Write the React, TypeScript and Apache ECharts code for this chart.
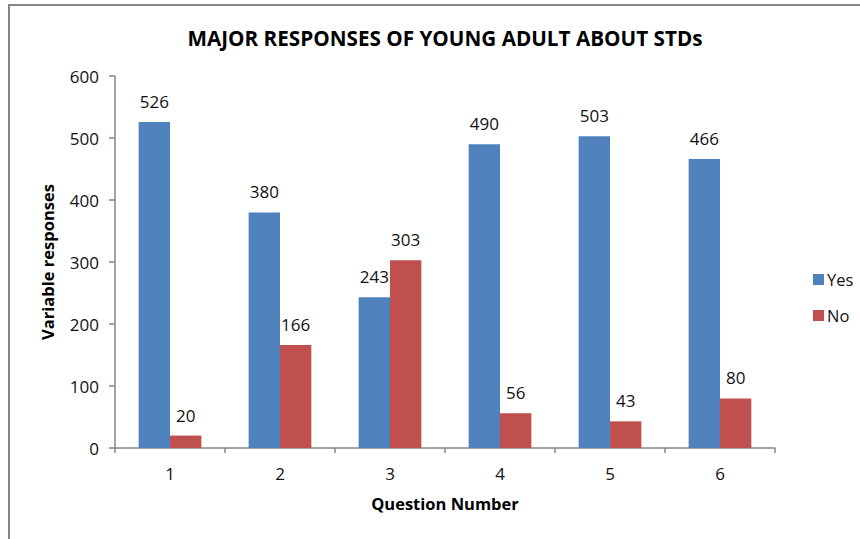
import React, { useEffect, useRef } from "react";
import * as echarts from "echarts";

const questions = ["1", "2", "3", "4", "5", "6"];
const yesValues = [526, 380, 243, 490, 503, 466];
const noValues = [20, 166, 303, 56, 43, 80];
const yTicks = { min: 0, max: 600, interval: 100 };

const FONT = "'Open Sans', 'Noto Sans', sans-serif";
const AXIS_GRAY = "#868686";

export default function App() {
  const ref = useRef<HTMLDivElement>(null);

  useEffect(() => {
    if (!ref.current) return;
    const chart = echarts.init(ref.current, null, { renderer: "svg" });
    const labelStyle = {
      show: true,
      position: "top" as const,
      distance: 12,
      fontSize: 17,
      color: "#111",
      fontFamily: FONT,
    };
    chart.setOption({
      animation: false,
      backgroundColor: "#fff",
      textStyle: { fontFamily: FONT },
      title: {
        text: "MAJOR RESPONSES OF YOUNG ADULT ABOUT STDs",
        left: 440,
        top: 22,
        textAlign: "center",
        textStyle: { fontSize: 20.7, fontWeight: "bold", color: "#000", fontFamily: FONT },
      },
      legend: {
        orient: "vertical",
        left: 808,
        top: 266,
        itemWidth: 11,
        itemHeight: 11,
        itemGap: 19,
        icon: "rect",
        textStyle: { fontSize: 16.5, color: "#111", fontFamily: FONT, padding: [0, 0, 0, -2] },
        data: ["Yes", "No"],
      },
      grid: { left: 115, right: 85, top: 76, bottom: 91, containLabel: false },
      xAxis: {
        type: "category",
        data: questions,
        name: "Question Number",
        nameLocation: "middle",
        nameGap: 47,
        nameTextStyle: { fontSize: 16.5, fontWeight: "bold", color: "#000", fontFamily: FONT },
        axisLine: { show: true, lineStyle: { color: AXIS_GRAY, width: 1.5 } },
        axisTick: { show: true, alignWithLabel: false, length: 5, lineStyle: { color: AXIS_GRAY, width: 1.5 } },
        axisLabel: { fontSize: 17, color: "#111", margin: 17, fontFamily: FONT },
      },
      yAxis: {
        type: "value",
        min: yTicks.min,
        max: yTicks.max,
        interval: yTicks.interval,
        name: "Variable responses",
        nameLocation: "middle",
        nameGap: 59,
        nameTextStyle: { fontSize: 16.5, fontWeight: "bold", color: "#000", fontFamily: FONT },
        axisLine: { show: true, lineStyle: { color: AXIS_GRAY, width: 1.5 } },
        axisTick: { show: true, length: 6, lineStyle: { color: AXIS_GRAY, width: 1.5 } },
        axisLabel: { fontSize: 17, color: "#111", margin: 16, fontFamily: FONT },
        splitLine: { show: false },
      },
      series: [
        {
          name: "Yes",
          type: "bar",
          data: yesValues,
          barGap: "0%",
          barCategoryGap: "43%",
          itemStyle: { color: "#4F81BD" },
          label: labelStyle,
        },
        {
          name: "No",
          type: "bar",
          data: noValues,
          itemStyle: { color: "#C0504D" },
          label: labelStyle,
        },
      ],
      graphic: [
        {
          type: "polyline",
          shape: { points: [[9, 539], [9, 5], [860, 5]] },
          style: { stroke: AXIS_GRAY, lineWidth: 2, fill: "none" },
          silent: true,
        },
      ],
    });
    return () => chart.dispose();
  }, []);

  return (
    <div
      ref={ref}
      style={{ position: "fixed", left: 0, top: 0, width: 860, height: 539, background: "#fff" }}
    />
  );
}
